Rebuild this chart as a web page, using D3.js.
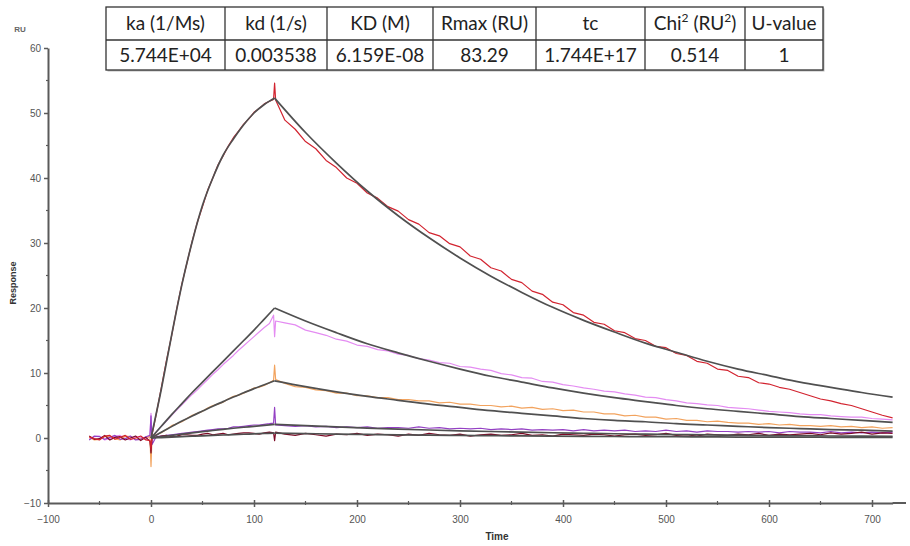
<!DOCTYPE html>
<html>
<head>
<meta charset="utf-8">
<script src="https://cdn.jsdelivr.net/npm/d3@7"></script>
<style>
  body { margin: 0; background: #fff; }
  svg { display: block; }
</style>
</head>
<body>
<script>
// kinetic fit summary (table above the plot)
const tableHeaders = ["ka (1/Ms)", "kd (1/s)", "KD (M)", "Rmax (RU)", "tc", "Chi2 (RU2)", "U-value"];
const tableValues = ["5.744E+04", "0.003538", "6.159E-08", "83.29", "1.744E+17", "0.514", "1"];

const xTicks = [-100, 0, 100, 200, 300, 400, 500, 600, 700];
const xMinor = [-50, 50, 150, 250, 350, 450, 550, 650];
const yTicks = [-10, 0, 10, 20, 30, 40, 50, 60];
const yMinor = [-5, 5, 15, 25, 35, 45, 55];

// measured sensorgrams (time in s, response in RU)
const measTimes = [-60, -55, -50, -45, -40, -35, -30, -25, -20, -15, -10, -5, -1, 0, 1,
  5, 10, 15, 20, 25, 30, 35, 40, 45, 50, 55, 60, 65, 70, 75, 80, 85, 90, 95, 100, 105, 110, 115,
  119, 120, 121,
  130, 140, 150, 160, 170, 180, 190, 200, 210, 220,
  230, 240, 250, 260, 270, 280, 290, 300, 310, 320,
  330, 340, 350, 360, 370, 380, 390, 400, 410, 420,
  430, 440, 450, 460, 470, 480, 490, 500, 510, 520,
  530, 540, 550, 560, 570, 580, 590, 600, 610, 620,
  630, 640, 650, 660, 670, 680, 690, 700, 710, 720];

const measRed = [0.2, -0.1, -0.3, 0.3, 0.4, -0.2, 0.1, 0.4, -0.2, 0.0, 0.3, -0.3, -0.4, -1.8, 0.5,
  3.6, 7.7, 11.9, 15.7, 19.9, 23.7, 27.0, 30.3, 33.2, 35.6, 38.1, 40.0, 42.0, 43.4, 44.9, 46.2, 47.2, 48.3, 49.1, 50.1, 50.7, 51.4, 51.8,
  52.1, 54.6, 52.0,
  48.9, 47.5, 45.6, 44.5, 42.7, 41.6, 40.0, 39.2, 37.7, 36.9,
  35.6, 34.9, 33.6, 32.9, 31.6, 31.1, 29.9, 29.4, 28.0, 27.5,
  26.2, 25.7, 24.4, 23.9, 22.6, 22.1, 20.9, 20.5, 19.3, 18.9,
  17.8, 17.5, 16.5, 16.2, 15.3, 15.0, 14.1, 13.9, 13.0, 12.7,
  11.8, 11.5, 10.6, 10.4, 9.5, 9.3, 8.5, 8.3, 7.8, 7.5,
  7.0, 6.5, 6.0, 5.7, 5.3, 5.0, 4.5, 4.0, 3.5, 3.1];

const measMagenta = [-0.2, 0.2, 0.3, -0.3, -0.1, 0.3, 0.4, -0.1, -0.3, 0.2, 0.1, -0.2, 0.3, 3.8, -0.5,
  0.9, 1.8, 2.6, 3.5, 4.3, 5.1, 5.9, 6.7, 7.4, 8.2, 9.0, 9.8, 10.5, 11.3, 12.0, 12.7, 13.5, 14.2, 14.9, 15.6, 16.3, 17.0, 17.6,
  18.9, 15.6, 18.0,
  17.7, 17.4, 16.6, 16.2, 15.8, 15.2, 14.9, 14.3, 14.1, 13.6,
  13.4, 12.9, 12.7, 12.2, 12.0, 11.6, 11.5, 11.0, 10.9, 10.6,
  10.4, 9.9, 9.7, 9.3, 9.2, 8.7, 8.6, 8.2, 8.0, 7.7,
  7.5, 7.2, 7.1, 6.8, 6.6, 6.3, 6.2, 5.9, 5.7, 5.4,
  5.3, 5.1, 5.0, 4.7, 4.6, 4.5, 4.3, 4.1, 4.0, 3.9,
  3.7, 3.6, 3.6, 3.4, 3.3, 3.2, 3.2, 3.0, 2.9, 2.8];

const measOrange = [0.1, -0.3, -0.2, 0.2, 0.3, -0.1, -0.3, 0.3, 0.2, -0.2, -0.1, 0.1, 0.2, -4.4, 0.3,
  0.5, 0.8, 1.3, 1.9, 2.2, 2.5, 3.0, 3.5, 3.8, 4.1, 4.6, 5.0, 5.2, 5.5, 6.0, 6.4, 6.6, 6.9, 7.3, 7.7, 7.8, 8.1, 8.5,
  8.9, 11.2, 9.0,
  8.4, 7.9, 7.8, 7.4, 7.3, 6.9, 6.9, 6.5, 6.5, 6.2,
  6.2, 5.9, 5.9, 5.7, 5.7, 5.4, 5.5, 5.2, 5.2, 5.0,
  5.0, 4.8, 4.9, 4.6, 4.7, 4.4, 4.5, 4.2, 4.3, 4.0,
  4.0, 3.7, 3.7, 3.4, 3.5, 3.2, 3.2, 2.9, 3.0, 2.7,
  2.7, 2.5, 2.6, 2.4, 2.3, 2.3, 2.1, 2.2, 2.0, 2.1,
  1.9, 1.9, 1.8, 1.9, 1.7, 1.8, 1.6, 1.7, 1.5, 1.6];

const measPurple = [-0.3, 0.3, 0.2, -0.2, 0.1, 0.4, -0.2, -0.1, 0.3, -0.3, -0.2, 0.2, 0.4, 3.4, -1.0,
  0.2, 0.3, 0.4, 0.5, 0.6, 0.7, 0.8, 0.9, 1.0, 1.1, 1.2, 1.3, 1.4, 1.4, 1.5, 1.7, 1.7, 1.8, 1.9, 2.0, 2.0, 2.1, 2.2,
  2.3, 4.7, 2.0,
  1.9, 1.8, 1.9, 1.7, 1.8, 1.6, 1.7, 1.6, 1.7, 1.5,
  1.6, 1.6, 1.5, 1.7, 1.5, 1.6, 1.4, 1.5, 1.4, 1.5,
  1.3, 1.4, 1.3, 1.4, 1.2, 1.3, 1.2, 1.3, 1.1, 1.3,
  1.1, 1.2, 1.1, 1.2, 1.0, 1.1, 1.0, 1.2, 1.0, 1.1,
  0.9, 1.1, 1.0, 1.0, 0.9, 1.0, 0.9, 1.0, 0.8, 1.0,
  0.9, 0.9, 0.8, 1.0, 0.8, 0.9, 0.8, 0.9, 0.8, 0.9];

const measMaroon = [0.3, -0.2, -0.1, 0.4, -0.3, 0.1, 0.2, -0.3, 0.0, 0.3, -0.4, 0.1, -0.5, -2.3, 0.2,
  0.1, 0.3, 0.4, 0.2, 0.3, 0.5, 0.5, 0.4, 0.4, 0.6, 0.7, 0.5, 0.6, 0.7, 0.5, 0.6, 0.7, 0.8, 0.8, 0.7, 0.6, 0.8, 0.9,
  0.8, -0.4, 0.9,
  0.6, 0.4, 0.7, 0.5, 0.3, 0.6, 0.5, 0.7, 0.4, 0.6,
  0.5, 0.3, 0.6, 0.4, 0.7, 0.5, 0.4, 0.6, 0.3, 0.5,
  0.6, 0.4, 0.5, 0.7, 0.4, 0.5, 0.3, 0.6, 0.5, 0.4,
  0.6, 0.5, 0.3, 0.5, 0.6, 0.4, 0.5, 0.7, 0.4, 0.5,
  0.3, 0.6, 0.5, 0.4, 0.6, 0.5, 0.7, 0.4, 0.6, 0.5,
  0.6, 0.7, 0.5, 0.8, 0.6, 0.7, 0.9, 0.6, 0.8, 0.7];

// fitted 1:1 curves
const fitTimes = [0, 10, 20, 30, 40, 50, 60, 70, 80, 90, 100, 110, 120,
  150, 180, 210, 240, 270, 300, 330, 360, 390, 420,
  450, 480, 510, 540, 570, 600, 630, 660, 690, 720];

const fit1 = [0, 7.5, 15.8, 23.6, 30.2, 35.8, 40.0, 43.5, 46.0, 48.2, 50.0, 51.3, 52.3,
  47.0, 42.3, 38.0, 34.2, 30.8, 27.7, 24.9, 22.4, 20.1, 18.1,
  16.3, 14.6, 13.2, 11.8, 10.6, 9.6, 8.6, 7.8, 7.0, 6.3];
const fit2 = [0, 1.8, 3.6, 5.3, 7.0, 8.6, 10.2, 11.8, 13.4, 15.0, 16.6, 18.3, 20.0,
  18.0, 16.2, 14.5, 13.1, 11.8, 10.6, 9.5, 8.6, 7.7, 6.9,
  6.2, 5.6, 5.0, 4.5, 4.1, 3.7, 3.3, 3.0, 2.7, 2.4];
const fit3 = [0, 0.9, 1.75, 2.6, 3.4, 4.15, 4.9, 5.6, 6.3, 6.95, 7.6, 8.2, 8.8,
  7.9, 7.1, 6.4, 5.8, 5.2, 4.7, 4.2, 3.8, 3.4, 3.0,
  2.7, 2.5, 2.2, 2.0, 1.8, 1.6, 1.45, 1.3, 1.2, 1.05];
const fit4 = [0, 0.2, 0.4, 0.6, 0.8, 0.98, 1.15, 1.33, 1.5, 1.65, 1.8, 1.95, 2.1,
  1.89, 1.70, 1.53, 1.37, 1.23, 1.11, 1.0, 0.9, 0.81, 0.73,
  0.65, 0.59, 0.53, 0.47, 0.43, 0.38, 0.35, 0.31, 0.28, 0.25];
const fit5 = [0, 0.07, 0.14, 0.21, 0.28, 0.34, 0.40, 0.46, 0.52, 0.58, 0.64, 0.70, 0.75,
  0.68, 0.61, 0.55, 0.49, 0.44, 0.40, 0.36, 0.32, 0.29, 0.26,
  0.23, 0.21, 0.19, 0.17, 0.15, 0.14, 0.12, 0.11, 0.10, 0.09];

const INJECTION_END = 120;
const measured = [
  { values: measMagenta, color: "#e48cf2" },
  { values: measOrange, color: "#f2a35e" },
  { values: measPurple, color: "#9440c4" },
  { values: measMaroon, color: "#7c0a26" },
  { values: measRed, color: "#d2232f" },
];
const fits = [fit1, fit2, fit3, fit4, fit5];

const W = 910;
const H = 546;
const AXIS_COLOR = "#5a5a5a";
const FIT_COLOR = "#505050";

const svg = d3.select("body").append("svg").attr("width", W).attr("height", H);

const x = d3.scaleLinear().domain([-100, 720]).range([48, 892.6]);
const y = d3.scaleLinear().domain([-10, 60]).range([503, 48]);

// axes
const yAxis = svg.append("g")
  .attr("transform", `translate(${x(-100)},0)`)
  .call(d3.axisLeft(y).tickValues(yTicks).tickSize(4).tickSizeOuter(0).tickPadding(3));

const xAxis = svg.append("g")
  .attr("transform", `translate(0,${y(-10)})`)
  .call(d3.axisBottom(x).tickValues(xTicks).tickSize(4).tickSizeOuter(0).tickPadding(9));

[yAxis, xAxis].forEach((g) => {
  g.select(".domain").attr("stroke", AXIS_COLOR).attr("stroke-width", 2);
  g.selectAll(".tick line").attr("stroke", AXIS_COLOR).attr("stroke-width", 1.5);
  g.selectAll(".tick text")
    .attr("fill", "#555")
    .attr("font-family", "Liberation Sans, Arial, sans-serif")
    .attr("font-size", 10);
});
xAxis.selectAll(".tick line").attr("y1", -3);

// extend x axis line a bit past the last tick
xAxis.append("line")
  .attr("x1", x(720)).attr("x2", 906)
  .attr("stroke", AXIS_COLOR).attr("stroke-width", 2);

yAxis.selectAll(".minor").data(yMinor).enter().append("line")
  .attr("x1", -2).attr("x2", 1)
  .attr("y1", (d) => y(d)).attr("y2", (d) => y(d))
  .attr("stroke", AXIS_COLOR).attr("stroke-width", 1.2);

xAxis.selectAll(".minor").data(xMinor).enter().append("line")
  .attr("x1", (d) => x(d)).attr("x2", (d) => x(d))
  .attr("y1", -2).attr("y2", 2)
  .attr("stroke", AXIS_COLOR).attr("stroke-width", 1.2);

// axis titles
svg.append("text")
  .attr("x", 20).attr("y", 32)
  .attr("text-anchor", "middle")
  .attr("font-family", "Liberation Sans, Arial, sans-serif")
  .attr("font-size", 8).attr("font-weight", "bold")
  .attr("fill", "#666")
  .text("RU");

svg.append("text")
  .attr("transform", "translate(16,283) rotate(-90)")
  .attr("text-anchor", "middle")
  .attr("font-family", "Liberation Sans, Arial, sans-serif")
  .attr("font-size", 9).attr("font-weight", "bold")
  .attr("fill", "#333")
  .text("Response");

svg.append("text")
  .attr("x", 497).attr("y", 540)
  .attr("text-anchor", "middle")
  .attr("font-family", "Liberation Sans, Arial, sans-serif")
  .attr("font-size", 10).attr("font-weight", "bold")
  .attr("fill", "#333")
  .text("Time");

// curves
const line = d3.line().x((d) => x(d[0])).y((d) => y(d[1]));
const smooth = d3.line().x((d) => x(d[0])).y((d) => y(d[1])).curve(d3.curveMonotoneX);

const plot = svg.append("g");

measured.forEach((s) => {
  plot.append("path")
    .datum(measTimes.map((t, i) => [t, s.values[i]]))
    .attr("fill", "none")
    .attr("stroke", s.color)
    .attr("stroke-width", 1.2)
    .attr("stroke-linejoin", "round")
    .attr("d", line);
});

fits.forEach((f) => {
  const pts = fitTimes.map((t, i) => [t, f[i]]);
  const phases = [
    pts.filter((d) => d[0] <= INJECTION_END),
    pts.filter((d) => d[0] >= INJECTION_END),
  ];
  phases.forEach((p) => {
    plot.append("path")
      .datum(p)
      .attr("fill", "none")
      .attr("stroke", FIT_COLOR)
      .attr("stroke-width", 1.7)
      .attr("d", smooth);
  });
});

// results table
const colEdges = [106, 225, 327, 433, 536, 645, 745, 823];
const rowEdges = [7, 40, 70];

const table = svg.append("g").attr("font-family", "Lato, Open Sans, sans-serif").attr("fill", "#222");

table.append("rect")
  .attr("x", colEdges[0] + 1.5).attr("y", rowEdges[0] + 1.5)
  .attr("width", colEdges[7] - colEdges[0]).attr("height", rowEdges[2] - rowEdges[0])
  .attr("fill", "#bbb");
table.append("rect")
  .attr("x", colEdges[0]).attr("y", rowEdges[0])
  .attr("width", colEdges[7] - colEdges[0]).attr("height", rowEdges[2] - rowEdges[0])
  .attr("fill", "#fff").attr("stroke", "#333").attr("stroke-width", 1.3);
table.append("line")
  .attr("x1", colEdges[0]).attr("x2", colEdges[7])
  .attr("y1", rowEdges[1]).attr("y2", rowEdges[1])
  .attr("stroke", "#333").attr("stroke-width", 1.3);
table.selectAll(".col").data(colEdges.slice(1, -1)).enter().append("line")
  .attr("x1", (d) => d).attr("x2", (d) => d)
  .attr("y1", rowEdges[0]).attr("y2", rowEdges[2])
  .attr("stroke", "#333").attr("stroke-width", 1.3);

const colCenter = (i) => (colEdges[i] + colEdges[i + 1]) / 2;

tableHeaders.forEach((h, i) => {
  const t = table.append("text")
    .attr("x", colCenter(i)).attr("y", 30)
    .attr("text-anchor", "middle")
    .attr("font-size", 19);
  if (h.startsWith("Chi2")) {
    t.append("tspan").text("Chi");
    t.append("tspan").attr("font-size", 12).attr("dy", -8).text("2");
    t.append("tspan").attr("dy", 8).text(" (RU");
    t.append("tspan").attr("font-size", 12).attr("dy", -8).text("2");
    t.append("tspan").attr("dy", 8).text(")");
  } else {
    t.text(h);
  }
});

tableValues.forEach((v, i) => {
  table.append("text")
    .attr("x", colCenter(i)).attr("y", 62)
    .attr("text-anchor", "middle")
    .attr("font-size", 19)
    .text(v);
});
</script>
</body>
</html>
